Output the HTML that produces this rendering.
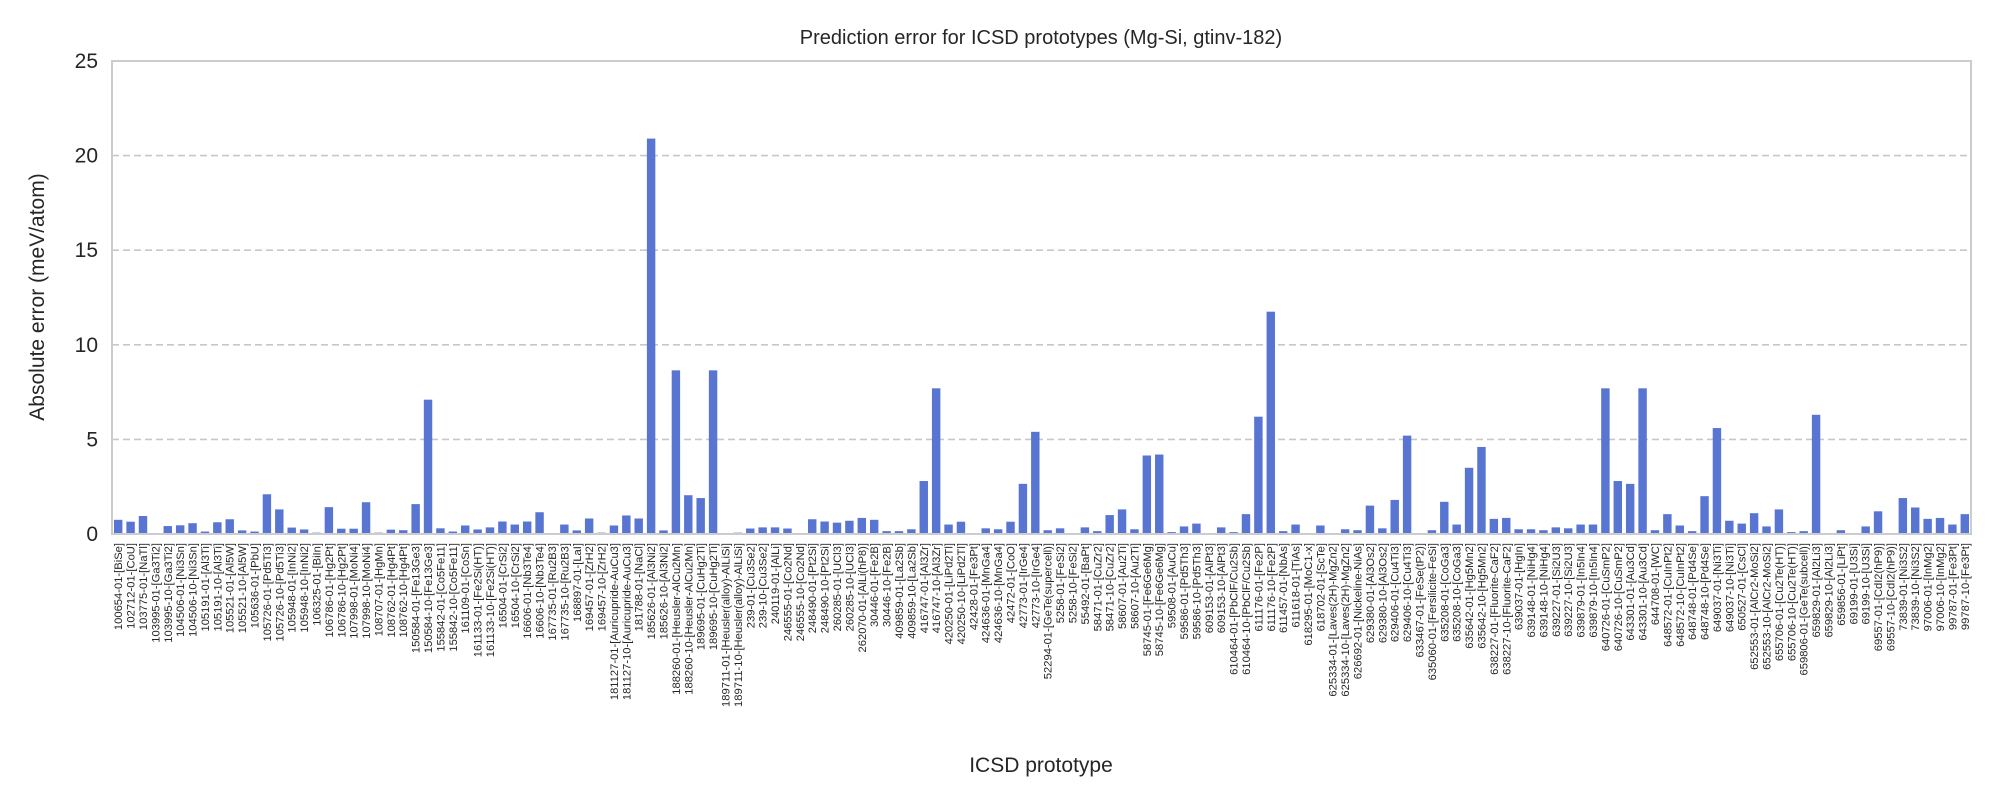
<!DOCTYPE html>
<html><head><meta charset="utf-8"><style>
body{margin:0;background:#fff;}
svg text{font-family:"Liberation Sans","DejaVu Sans",sans-serif;fill:#262626;}
</style></head><body>
<svg id="chart" width="2000" height="800" viewBox="0 0 2000 800" xmlns="http://www.w3.org/2000/svg">
<rect x="0" y="0" width="2000" height="800" fill="#fff"/>
<text x="1041" y="44" text-anchor="middle" font-size="20">Prediction error for ICSD prototypes (Mg-Si, gtinv-182)</text>
<text transform="translate(44,297) rotate(-90)" text-anchor="middle" font-size="21">Absolute error (meV/atom)</text>
<text x="1041" y="772" text-anchor="middle" font-size="21">ICSD prototype</text>
<g id="grid"></g>
<g id="bars"></g>
<g id="yticks"></g>
<g id="xticks"></g>
<rect x="112" y="61" width="1859" height="473" fill="none" stroke="#cccccc" stroke-width="2"/>
</svg>
<script>
const categories = ["100654-01-[BiSe]","102712-01-[CoU]","103775-01-[NaTl]","103995-01-[Ga3Ti2]","103995-10-[Ga3Ti2]","104506-01-[Ni3Sn]","104506-10-[Ni3Sn]","105191-01-[Al3Ti]","105191-10-[Al3Ti]","105521-01-[Al5W]","105521-10-[Al5W]","105636-01-[PbU]","105726-01-[Pd5Ti3]","105726-10-[Pd5Ti3]","105948-01-[InNi2]","105948-10-[InNi2]","106325-01-[BiIn]","106786-01-[Hg2Pt]","106786-10-[Hg2Pt]","107998-01-[MoNi4]","107998-10-[MoNi4]","108707-01-[HgMn]","108762-01-[Hg4Pt]","108762-10-[Hg4Pt]","150584-01-[Fe13Ge3]","150584-10-[Fe13Ge3]","155842-01-[Co5Fe11]","155842-10-[Co5Fe11]","161109-01-[CoSn]","161133-01-[Fe2Si(HT)]","161133-10-[Fe2Si(HT)]","16504-01-[CrSi2]","16504-10-[CrSi2]","16606-01-[Nb3Te4]","16606-10-[Nb3Te4]","167735-01-[Ru2B3]","167735-10-[Ru2B3]","168897-01-[LaI]","169457-01-[ZrH2]","169457-10-[ZrH2]","181127-01-[Auricupride-AuCu3]","181127-10-[Auricupride-AuCu3]","181788-01-[NaCl]","185626-01-[Al3Ni2]","185626-10-[Al3Ni2]","188260-01-[Heusler-AlCu2Mn]","188260-10-[Heusler-AlCu2Mn]","189695-01-[CuHg2Ti]","189695-10-[CuHg2Ti]","189711-01-[Heusler(alloy)-AlLiSi]","189711-10-[Heusler(alloy)-AlLiSi]","239-01-[Cu3Se2]","239-10-[Cu3Se2]","240119-01-[AlLi]","246555-01-[Co2Nd]","246555-10-[Co2Nd]","248490-01-[Pt2Si]","248490-10-[Pt2Si]","260285-01-[UCl3]","260285-10-[UCl3]","262070-01-[AlLi(hP8)]","30446-01-[Fe2B]","30446-10-[Fe2B]","409859-01-[La2Sb]","409859-10-[La2Sb]","416747-01-[Al3Zr]","416747-10-[Al3Zr]","420250-01-[LiPd2Tl]","420250-10-[LiPd2Tl]","42428-01-[Fe3Pt]","424636-01-[MnGa4]","424636-10-[MnGa4]","42472-01-[CoO]","42773-01-[IrGe4]","42773-10-[IrGe4]","52294-01-[GeTe(supercell)]","5258-01-[FeSi2]","5258-10-[FeSi2]","55492-01-[BaPt]","58471-01-[CuZr2]","58471-10-[CuZr2]","58607-01-[Au2Ti]","58607-10-[Au2Ti]","58745-01-[Fe6Ge6Mg]","58745-10-[Fe6Ge6Mg]","59508-01-[AuCu]","59586-01-[Pd5Th3]","59586-10-[Pd5Th3]","609153-01-[AlPt3]","609153-10-[AlPt3]","610464-01-[PbClF/Cu2Sb]","610464-10-[PbClF/Cu2Sb]","611176-01-[Fe2P]","611176-10-[Fe2P]","611457-01-[NbAs]","611618-01-[TiAs]","618295-01-[MoC1-x]","618702-01-[ScTe]","625334-01-[Laves(2H)-MgZn2]","625334-10-[Laves(2H)-MgZn2]","626692-01-[Nickeline-NiAs]","629380-01-[Al3Os2]","629380-10-[Al3Os2]","629406-01-[Cu4Ti3]","629406-10-[Cu4Ti3]","633467-01-[FeSe(tP2)]","635060-01-[Fersilicite-FeSi]","635208-01-[CoGa3]","635208-10-[CoGa3]","635642-01-[Hg5Mn2]","635642-10-[Hg5Mn2]","638227-01-[Fluorite-CaF2]","638227-10-[Fluorite-CaF2]","639037-01-[HgIn]","639148-01-[NiHg4]","639148-10-[NiHg4]","639227-01-[Si2U3]","639227-10-[Si2U3]","639879-01-[In5In4]","639879-10-[In5In4]","640726-01-[CuSmP2]","640726-10-[CuSmP2]","643301-01-[Au3Cd]","643301-10-[Au3Cd]","644708-01-[WC]","648572-01-[CuInPt2]","648572-10-[CuInPt2]","648748-01-[Pd4Se]","648748-10-[Pd4Se]","649037-01-[Ni3Ti]","649037-10-[Ni3Ti]","650527-01-[CsCl]","652553-01-[AlCr2-MoSi2]","652553-10-[AlCr2-MoSi2]","655706-01-[Cu2Te(HT)]","655706-10-[Cu2Te(HT)]","659806-01-[GeTe(subcell)]","659829-01-[Al2Li3]","659829-10-[Al2Li3]","659856-01-[LiPt]","69199-01-[U3Si]","69199-10-[U3Si]","69557-01-[CdI2(hP9)]","69557-10-[CdI2(hP9)]","73839-01-[Ni3S2]","73839-10-[Ni3S2]","97006-01-[InMg2]","97006-10-[InMg2]","99787-01-[Fe3Pt]","99787-10-[Fe3Pt]"];
const errors = [0.75,0.65,0.95,0,0.42,0.46,0.57,0.13,0.62,0.78,0.19,0.13,2.1,1.3,0.34,0.24,0.07,1.42,0.28,0.28,1.68,0.07,0.23,0.2,1.58,7.1,0.3,0.13,0.45,0.24,0.35,0.66,0.5,0.66,1.15,0,0.5,0.19,0.82,0.07,0.45,0.98,0.82,20.9,0.19,8.65,2.05,1.9,8.65,0,0.07,0.29,0.35,0.35,0.29,0,0.78,0.66,0.6,0.7,0.85,0.75,0.15,0.15,0.25,2.8,7.7,0.5,0.65,0,0.3,0.25,0.65,2.65,5.4,0.2,0.3,0,0.35,0.15,1.0,1.3,0.25,4.15,4.2,0.1,0.4,0.55,0,0.35,0.1,1.05,6.2,11.75,0.15,0.5,0,0.45,0,0.25,0.2,1.5,0.3,1.8,5.2,0.05,0.2,1.7,0.5,3.5,4.6,0.8,0.85,0.25,0.25,0.2,0.35,0.3,0.5,0.5,7.7,2.8,2.65,7.7,0.2,1.05,0.45,0.15,2.0,5.6,0.7,0.55,1.1,0.4,1.3,0.1,0.15,6.3,0,0.2,0,0.4,1.2,0,1.9,1.4,0.8,0.85,0.5,1.05];
const yTicks = [0,5,10,15,20,25];
const yTickLabels = ["0","5","10","15","20","25"];

const NS = "http://www.w3.org/2000/svg";
const L = 112, R = 1971, T = 61, B = 534, YMAX = 25;
const step = (R - L) / categories.length;
function xScale(i){ return L + (i + 0.5) * step; }
function yScale(v){ return B - (v / YMAX) * (B - T); }

const grid = document.getElementById('grid');
const yt = document.getElementById('yticks');
yTicks.forEach((t, k) => {
  if (t > 0 && t < YMAX) {
    const ln = document.createElementNS(NS, 'line');
    
    
    ln.setAttribute('x1', L); ln.setAttribute('x2', R);
    ln.setAttribute('y1', yScale(t)); ln.setAttribute('y2', yScale(t));
    ln.setAttribute('stroke', '#c8c8c8'); ln.setAttribute('stroke-width', '1.6');
    ln.setAttribute('stroke-dasharray', '7,4');
    grid.appendChild(ln);
  }
  const tx = document.createElementNS(NS, 'text');
  
  
  tx.setAttribute('x', L - 14); tx.setAttribute('y', yScale(t) + 7);
  tx.setAttribute('text-anchor', 'end'); tx.setAttribute('font-size', '21');
  tx.textContent = yTickLabels[k];
  yt.appendChild(tx);
});

const bars = document.getElementById('bars');
const xt = document.getElementById('xticks');
const bw = step * 0.68;
categories.forEach((c, i) => {
  const v = errors[i];
  const r = document.createElementNS(NS, 'rect');
  
  
  r.setAttribute('x', xScale(i) - bw / 2);
  r.setAttribute('y', yScale(v));
  r.setAttribute('width', bw);
  r.setAttribute('height', B - yScale(v));
  r.setAttribute('fill', '#5875d2');
  bars.appendChild(r);
  const tx = document.createElementNS(NS, 'text');
  
  
  tx.setAttribute('transform', 'translate(' + (xScale(i) + 4) + ',543) rotate(-90)');
  tx.setAttribute('text-anchor', 'end');
  tx.setAttribute('font-size', '11.2');
  tx.textContent = c;
  xt.appendChild(tx);
});
</script>
</body></html>
